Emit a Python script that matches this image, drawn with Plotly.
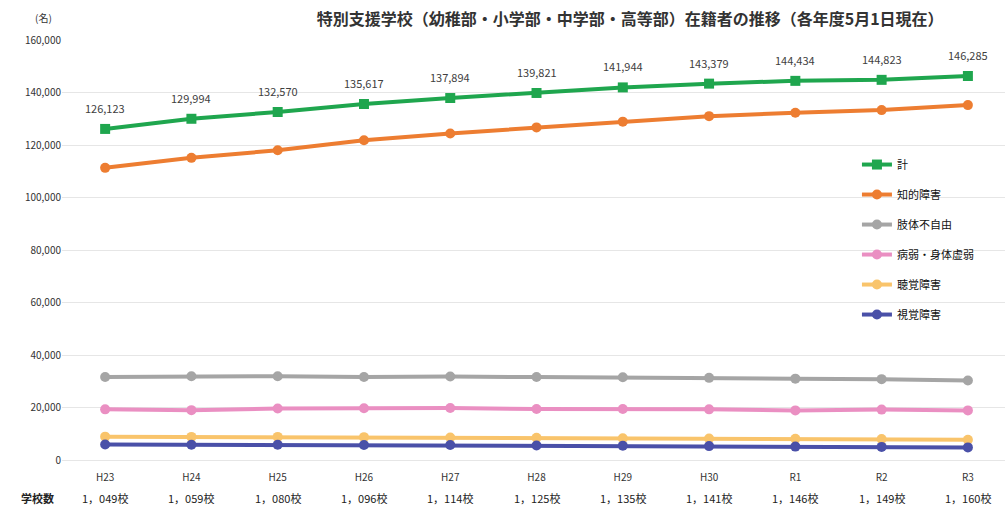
import plotly.graph_objects as go

years = ["H23", "H24", "H25", "H26", "H27", "H28", "H29", "H30", "R1", "R2", "R3"]
schools = ["1，049校", "1，059校", "1，080校", "1，096校", "1，114校", "1，125校",
           "1，135校", "1，141校", "1，146校", "1，149校", "1，160校"]
total = [126123, 129994, 132570, 135617, 137894, 139821, 141944, 143379, 144434, 144823, 146285]
chiteki = [111300, 115100, 118000, 121800, 124400, 126700, 128900, 131000, 132300, 133300, 135200]
shitai = [31600, 31900, 31900, 31600, 31800, 31600, 31500, 31300, 31000, 30800, 30300]
byojaku = [19300, 19000, 19600, 19700, 19800, 19400, 19400, 19300, 18900, 19200, 18900]
chokaku = [8900, 8800, 8800, 8700, 8600, 8500, 8300, 8200, 8100, 8000, 7700]
shikaku = [5900, 5800, 5800, 5700, 5700, 5500, 5400, 5300, 5100, 5000, 4800]

series = [
    ("計", total, "#1fa64e", "square"),
    ("知的障害", chiteki, "#ed7d31", "circle"),
    ("肢体不自由", shitai, "#a5a5a5", "circle"),
    ("病弱・身体虚弱", byojaku, "#ea8fc2", "circle"),
    ("聴覚障害", chokaku, "#f9c46b", "circle"),
    ("視覚障害", shikaku, "#4a50a8", "circle"),
]

FONT = "Noto Sans CJK JP"
fig = go.Figure()
for i, (name, vals, color, sym) in enumerate(series):
    fig.add_trace(go.Scatter(
        x=years, y=vals, name=name, mode="lines+markers",
        line=dict(color=color, width=4),
        marker=dict(color=color, size=10, symbol=sym),
        legendgroup=f"g{i}",
    ))

for yr, v in zip(years, total):
    fig.add_annotation(x=yr, y=v, xref="x", yref="y", text=f"{v:,}",
                       showarrow=False, yshift=21,
                       font=dict(size=11, color="#404040", family=FONT))

fig.add_annotation(x=-0.5, y=-0.115, xref="x", yref="paper", text="<b>学校数</b>",
                   showarrow=False, xanchor="right", xshift=-6,
                   font=dict(size=11, color="#222", family=FONT))
for yr, s in zip(years, schools):
    fig.add_annotation(x=yr, y=-0.115, xref="x", yref="paper", text=s,
                       showarrow=False,
                       font=dict(size=11, color="#222", family=FONT))

fig.add_annotation(x=0, y=1.0, xref="paper", yref="paper", text="(名)",
                   showarrow=False, xanchor="right", yanchor="bottom",
                   xshift=-8, yshift=13,
                   font=dict(size=10, color="#333", family=FONT))

fig.update_layout(
    width=1005, height=516,
    margin=dict(l=62, r=0, t=40, b=56),
    paper_bgcolor="white", plot_bgcolor="white",
    title=dict(text="<b>特別支援学校（幼稚部・小学部・中学部・高等部）在籍者の推移（各年度5月1日現在）</b>",
               x=0.627, xanchor="center", y=0.962, yanchor="middle",
               font=dict(size=16, color="#333", family=FONT)),
    font=dict(family=FONT, size=11, color="#333"),
    showlegend=True,
    legend=dict(x=0.843, y=0.738, xanchor="left", yanchor="top",
                bgcolor="rgba(0,0,0,0)", tracegroupgap=11,
                font=dict(size=11, color="#111", family=FONT)),
    xaxis=dict(type="category", range=[-0.5, 10.43], showgrid=False,
               showline=False, ticks="", ticklabelstandoff=10,
               tickfont=dict(size=10, color="#333")),
    yaxis=dict(range=[0, 160000], dtick=20000, tickformat=",",
               gridcolor="#e6e6e6", gridwidth=1, zeroline=True,
               zerolinecolor="#e6e6e6", zerolinewidth=1,
               tickfont=dict(size=10, color="#333"), ticks="", showline=False),
)

fig.write_html("out.html")
